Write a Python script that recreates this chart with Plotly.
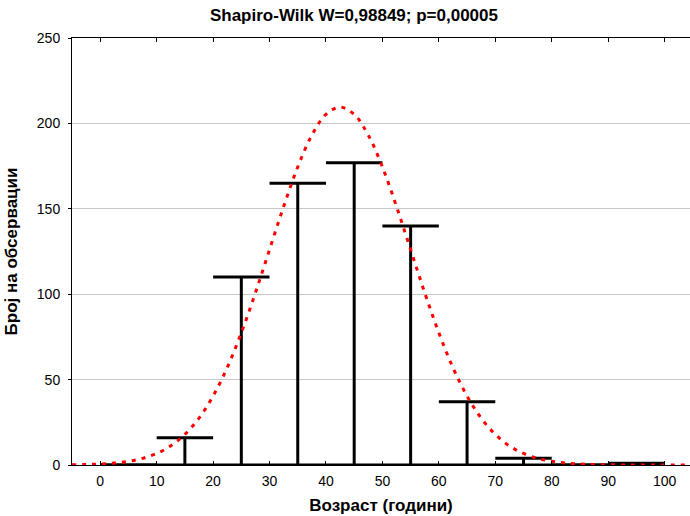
import plotly.graph_objects as go

# Histogram bins (left edges, width 10) and counts
bin_left = [0, 10, 20, 30, 40, 50, 60, 70, 80, 90]
bin_width = 10
counts = [0, 16, 110, 165, 177, 140, 37, 4, 0, 1]

# Fitted normal curve
curve_x = [-5, -2.5, 0, 2.5, 5, 7.5, 10, 12.5, 15, 17.5, 20, 22.5, 25, 27.5, 30, 32.5,
           35, 37.5, 40, 42.5, 45, 47.5, 50, 52.5, 55, 57.5, 60, 62.5, 65, 67.5, 70,
           72.5, 75, 77.5, 80, 82.5, 85, 87.5, 90, 92.5, 95, 100, 105]
curve_y = [0.14, 0.29, 0.59, 1.15, 2.16, 3.9, 6.75, 11.2, 17.9, 27.4, 40.4, 57.0, 77.4,
           100.8, 126.1, 151.3, 174.5, 193.1, 205.3, 209.5, 205.3, 193.1, 174.5, 151.3,
           126.1, 100.8, 77.4, 57.0, 40.4, 27.4, 17.9, 11.2, 6.75, 3.9, 2.16, 1.15, 0.59,
           0.29, 0.14, 0.06, 0.03, 0.0, 0.0]

x_ticks = list(range(0, 101, 10))
y_ticks = [0, 50, 100, 150, 200, 250]

title_text = "Shapiro-Wilk W=0,98849; p=0,00005"
x_title = "Возраст (години)"
y_title = "Број на обсервации"

# Build T-shaped histogram segments
hx, hy = [], []
hx += [bin_left[0], bin_left[-1] + bin_width, None]
hy += [0, 0, None]
for left, c in zip(bin_left, counts):
    mid = left + bin_width / 2
    hx += [left, left + bin_width, None, mid, mid, None]
    hy += [c, c, None, 0, c, None]

fig = go.Figure()
fig.add_trace(go.Scatter(x=hx, y=hy, mode="lines",
                         line=dict(color="black", width=3),
                         hoverinfo="skip", showlegend=False, cliponaxis=False))
fig.add_trace(go.Scatter(x=curve_x, y=curve_y, mode="lines",
                         line=dict(color="#ff0000", width=3, dash="4px,6px", shape="spline"),
                         showlegend=False))

font_family = "Liberation Sans, Arial, sans-serif"
fig.update_layout(
    width=690, height=516,
    margin=dict(l=72, r=0, t=38, b=51),
    paper_bgcolor="white", plot_bgcolor="white",
    font=dict(family=font_family, size=14, color="black"),
    title=dict(text="<b>" + title_text + "</b>", x=0.513, xanchor="center",
               y=0.971, yanchor="middle", font=dict(size=17, family=font_family, color="black")),
    xaxis=dict(range=[-5, 104.5], tickvals=x_ticks, ticks="inside", ticklen=4,
               tickcolor="black", showline=True, linecolor="black", linewidth=1,
               mirror="ticks", showgrid=False, zeroline=False,
               title=dict(text="<b>" + x_title + "</b>", font=dict(size=17),
                          standoff=11),
               ticklabelstandoff=3),
    yaxis=dict(range=[0, 250], tickvals=y_ticks, ticks="outside", ticklen=3,
               tickcolor="black", showline=True,
               linecolor="black", linewidth=1, mirror=False, showgrid=True,
               gridcolor="#c8c8c8", gridwidth=1, zeroline=False, ticklabelstandoff=5,
               title=dict(text="<b>" + y_title + "</b>", font=dict(size=17),
                          standoff=14)),
)

fig.write_html("out.html")
